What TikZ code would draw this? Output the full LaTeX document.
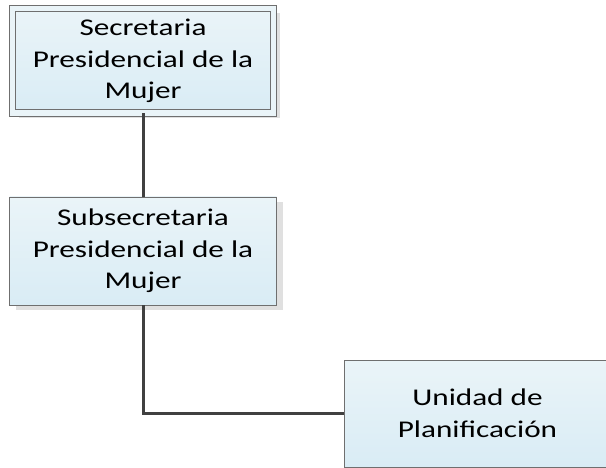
\documentclass[tikz,border=0pt]{standalone}
\usepackage{fontspec}
\setmainfont{Carlito}[FakeStretch=1.3]
\usetikzlibrary{shadows}
\definecolor{boxtop}{HTML}{EAF4F8}
\definecolor{boxbot}{HTML}{D9ECF5}
\definecolor{boxline}{HTML}{6F6F6F}
\definecolor{linkline}{HTML}{404040}
\tikzset{
	unitbox/.style={rectangle,draw=boxline,line width=0.9pt,top color=boxtop,bottom color=boxbot,
		minimum width=267pt,minimum height=108pt,inner sep=0pt,align=center,
		font=\fontsize{24}{31.5}\selectfont,
		drop shadow={shadow xshift=6pt,shadow yshift=-5pt,fill=black!12,opacity=1}},
	link/.style={draw=linkline,line width=3pt}
}
\begin{document}
	\begin{tikzpicture}[x=1pt,y=-1pt]
		\useasboundingbox (0,0) rectangle (606,468);
		\clip (0,0) rectangle (606,468);
		\node[unitbox,minimum width=261pt,minimum height=104.5pt,double=boxtop,double distance=5.5pt,line width=0.8pt] (spm) at (143,60.75) {\raisebox{-3pt}{\begin{tabular}{@{}c@{}}Secretaria\\Presidencial de la\\Mujer\end{tabular}}};
		\node[unitbox] (sub) at (143,251) {Subsecretaria\\Presidencial de la\\Mujer};
		\node[unitbox,minimum height=107pt] (plan) at (477.5,413.5) {Unidad de\\Planificación};
		\draw[link] (spm.south) -- (sub.north);
		\draw[link] (sub.south) |- (plan.west);
	\end{tikzpicture}
\end{document}
